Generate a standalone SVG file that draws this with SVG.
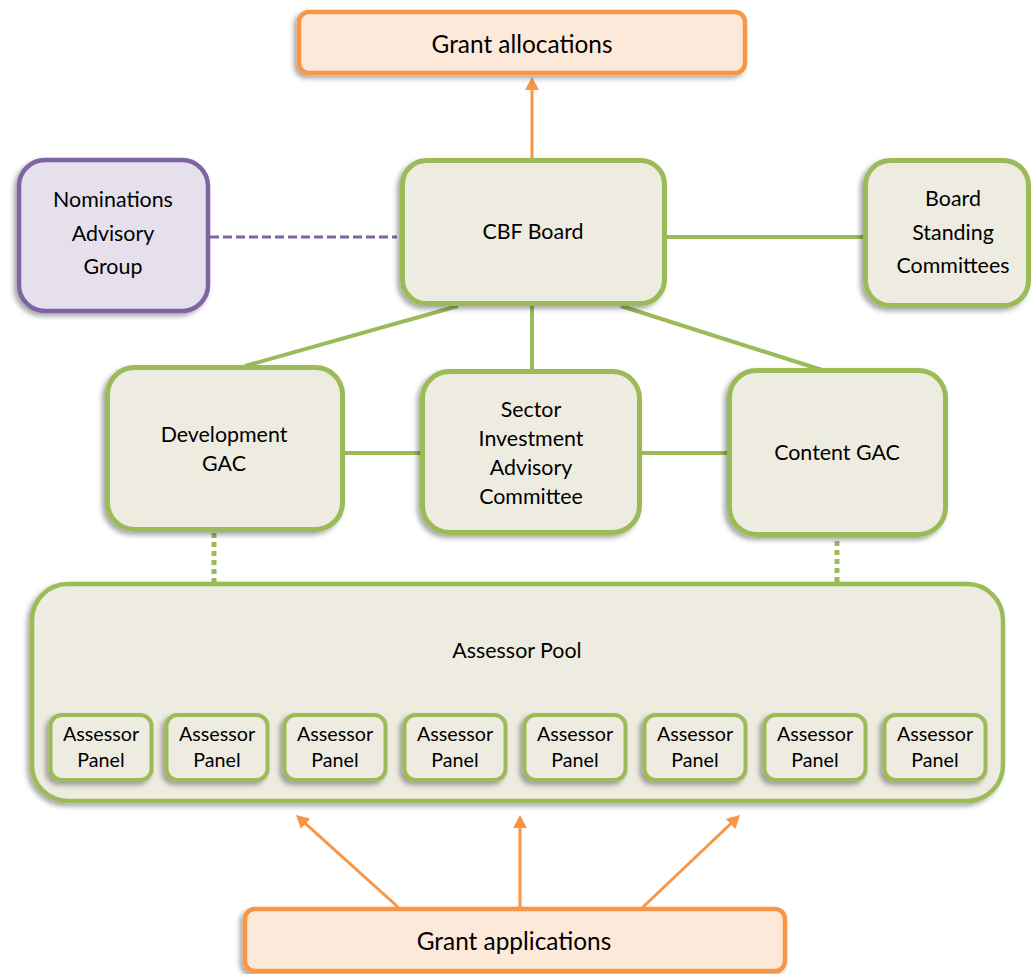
<svg xmlns="http://www.w3.org/2000/svg" width="1032" height="974" viewBox="0 0 1032 974">
<defs>
<filter id="sh" x="-10%" y="-10%" width="120%" height="130%">
<feDropShadow dx="-3" dy="3" stdDeviation="2.5" flood-color="#000" flood-opacity="0.35"/>
</filter>
<marker id="ah" viewBox="0 0 13 14" refX="5" refY="7" markerWidth="13" markerHeight="14" markerUnits="userSpaceOnUse" orient="auto">
<path d="M0,0 L13,7 L0,14 z" fill="#F79646"/>
</marker>
<style>
.g{fill:#EEECE1;stroke:#9BBB59;stroke-width:5;filter:url(#sh)}
.p{fill:#EEECE1;stroke:#9BBB59;stroke-width:4;filter:url(#sh)}
.o{fill:#FDE9D9;stroke:#F79646;stroke-width:4.5;filter:url(#sh)}
.u{fill:#E5E0EC;stroke:#8064A2;stroke-width:4.5;filter:url(#sh)}
.gl{stroke:#9BBB59;stroke-width:4;fill:none}
.dot{stroke:#9BBB59;stroke-width:5;stroke-dasharray:5 4;fill:none}
.dash{stroke:#8064A2;stroke-width:3;stroke-dasharray:9 4;fill:none}
.ar{stroke:#F79646;stroke-width:3;fill:none;marker-end:url(#ah)}
text{font-family:Lato,"Liberation Sans",sans-serif;fill:#000;text-anchor:middle}
.t1{font-size:24.4px}
.t2{font-size:21.4px}
.t3{font-size:19.7px}
</style>
</defs>
<rect width="1032" height="974" fill="#fff"/>
<g id="connectors">
<line class="ar" x1="532" y1="158" x2="532" y2="85"/>
<line class="dash" x1="210" y1="237" x2="397" y2="237"/>
<line class="gl" x1="665" y1="237" x2="865" y2="237"/>
<line class="gl" x1="458" y1="306" x2="245" y2="366"/>
<line class="gl" x1="532" y1="304" x2="532" y2="371"/>
<line class="gl" x1="621" y1="306" x2="822" y2="370"/>
<line class="gl" x1="343" y1="453" x2="422" y2="453"/>
<line class="gl" x1="640" y1="453" x2="729" y2="453"/>
<line class="dot" x1="214" y1="533" x2="214" y2="582"/>
<line class="dot" x1="837" y1="532" x2="837" y2="582"/>
<line class="ar" x1="520" y1="907" x2="520" y2="823"/>
<line class="ar" x1="398" y1="907" x2="301.9" y2="820.4"/>
<line class="ar" x1="643" y1="907" x2="734.2" y2="820.5"/>
</g>
<g id="grant-allocations">
<rect class="o" x="299" y="12" width="446" height="61" rx="10"/>
<text class="t1" x="522" y="53">Grant allocations</text>
</g>
<g id="cbf-board">
<rect class="g" x="402.5" y="160.5" width="262" height="143" rx="24"/>
<text class="t2" x="533" y="239">CBF Board</text>
</g>
<g id="nominations">
<rect class="u" x="19" y="160" width="189" height="151" rx="26"/>
<text class="t2" x="113" y="207">Nominations</text>
<text class="t2" x="113" y="240.5">Advisory</text>
<text class="t2" x="113" y="274">Group</text>
</g>
<g id="board-standing">
<rect class="g" x="865.5" y="160.5" width="163" height="145" rx="25"/>
<text class="t2" x="953" y="206">Board</text>
<text class="t2" x="953" y="239.5">Standing</text>
<text class="t2" x="953" y="273">Committees</text>
</g>
<g id="development-gac">
<rect class="g" x="107.5" y="367.5" width="235" height="162" rx="27"/>
<text class="t2" x="224" y="441.5">Development</text>
<text class="t2" x="224" y="470.5">GAC</text>
</g>
<g id="sector-investment">
<rect class="g" x="422.5" y="371.5" width="217" height="161" rx="27"/>
<text class="t2" x="531" y="417">Sector</text>
<text class="t2" x="531" y="446">Investment</text>
<text class="t2" x="531" y="475">Advisory</text>
<text class="t2" x="531" y="504">Committee</text>
</g>
<g id="content-gac">
<rect class="g" x="729.5" y="370.5" width="216" height="164" rx="27"/>
<text class="t2" x="837" y="460">Content GAC</text>
</g>
<g id="assessor-pool">
<rect class="g" style="stroke-width:4.5" x="32" y="584" width="971" height="217" rx="36"/>
<text class="t2" x="517" y="658">Assessor Pool</text>
</g>
<g id="panel-1"><rect class="p" x="50.5" y="715" width="101" height="65" rx="11"/><text class="t3" x="101" y="741">Assessor</text><text class="t3" x="101" y="767">Panel</text></g>
<g id="panel-2"><rect class="p" x="166.5" y="715" width="101" height="65" rx="11"/><text class="t3" x="217" y="741">Assessor</text><text class="t3" x="217" y="767">Panel</text></g>
<g id="panel-3"><rect class="p" x="284.5" y="715" width="101" height="65" rx="11"/><text class="t3" x="335" y="741">Assessor</text><text class="t3" x="335" y="767">Panel</text></g>
<g id="panel-4"><rect class="p" x="404.5" y="715" width="101" height="65" rx="11"/><text class="t3" x="455" y="741">Assessor</text><text class="t3" x="455" y="767">Panel</text></g>
<g id="panel-5"><rect class="p" x="524.5" y="715" width="101" height="65" rx="11"/><text class="t3" x="575" y="741">Assessor</text><text class="t3" x="575" y="767">Panel</text></g>
<g id="panel-6"><rect class="p" x="644.5" y="715" width="101" height="65" rx="11"/><text class="t3" x="695" y="741">Assessor</text><text class="t3" x="695" y="767">Panel</text></g>
<g id="panel-7"><rect class="p" x="764.5" y="715" width="101" height="65" rx="11"/><text class="t3" x="815" y="741">Assessor</text><text class="t3" x="815" y="767">Panel</text></g>
<g id="panel-8"><rect class="p" x="884.5" y="715" width="101" height="65" rx="11"/><text class="t3" x="935" y="741">Assessor</text><text class="t3" x="935" y="767">Panel</text></g>
<g id="grant-applications">
<rect class="o" x="245" y="909" width="540" height="62" rx="10"/>
<text class="t1" x="514" y="950">Grant applications</text>
</g>
</svg>
